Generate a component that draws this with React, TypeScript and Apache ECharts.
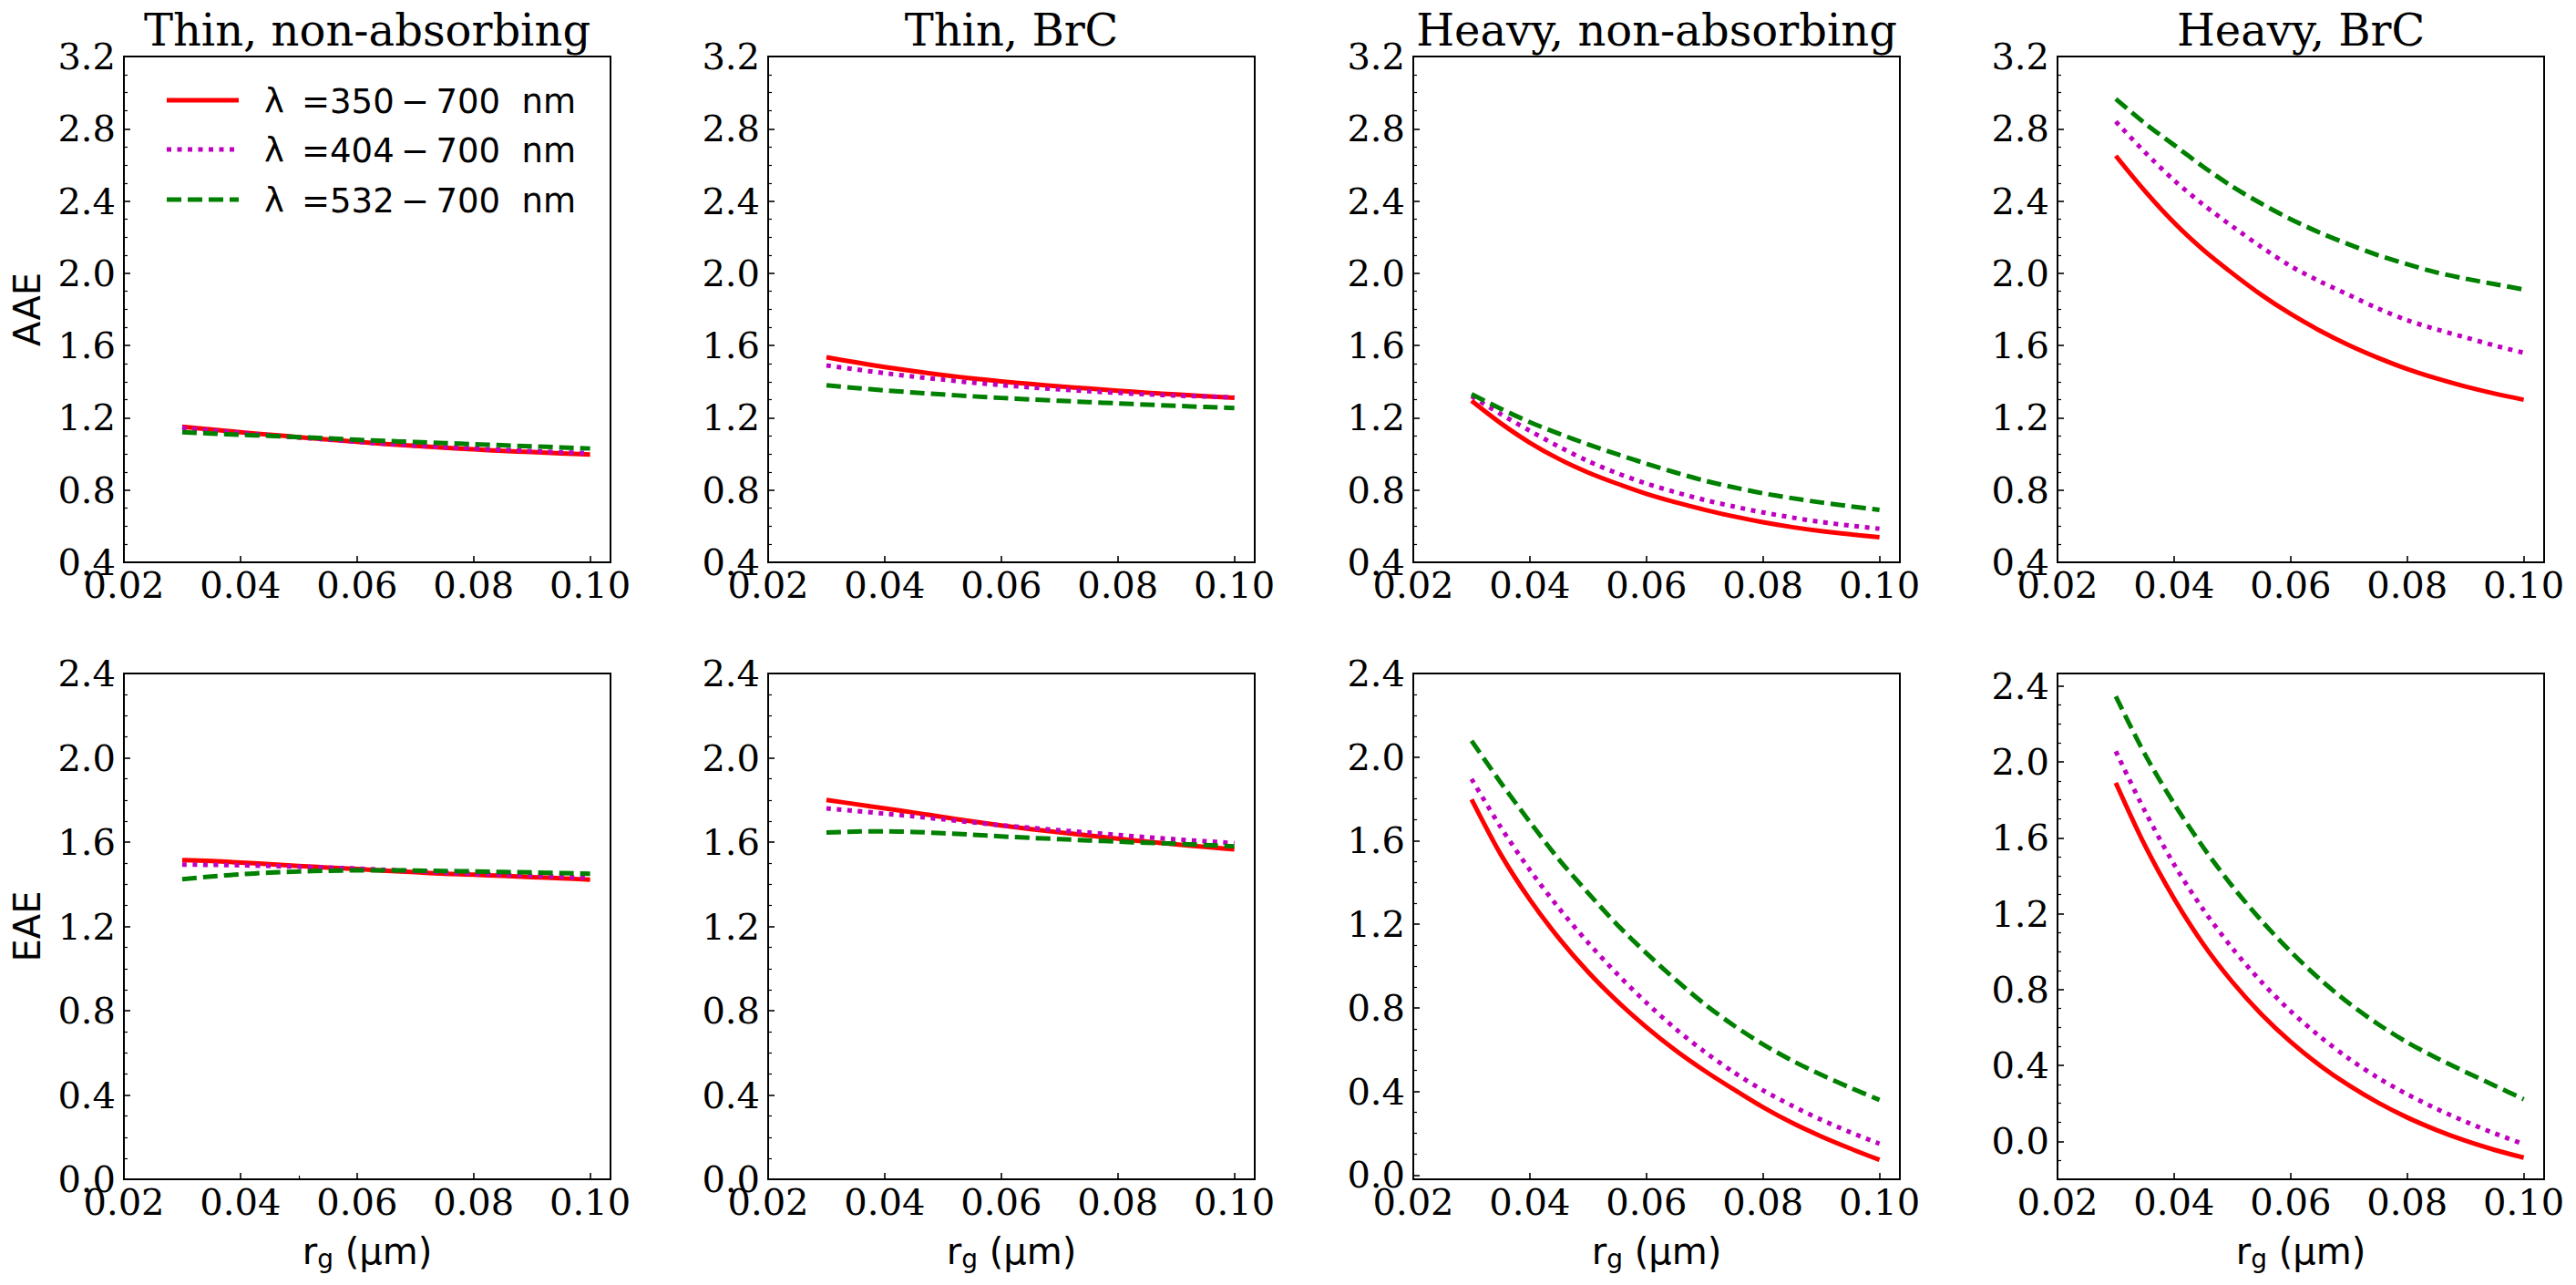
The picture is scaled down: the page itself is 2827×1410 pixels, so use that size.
import React, { useEffect, useRef } from "react";
import * as echarts from "echarts";

// ---------------- data ----------------
const X_VALUES = [0.03, 0.035, 0.04, 0.045, 0.05, 0.055, 0.06, 0.065, 0.07, 0.075, 0.08, 0.085, 0.09, 0.095, 0.1];

const PANEL_TITLES = ["Thin, non-absorbing", "Thin, BrC", "Heavy, non-absorbing", "Heavy, BrC"];
const ROW_LABELS = ["AAE", "EAE"];
const SERIES_LABELS = [
  "λ\u2009 =350\u2009−\u2009700  nm",
  "λ\u2009 =404\u2009−\u2009700  nm",
  "λ\u2009 =532\u2009−\u2009700  nm",
];

const X_TICKS = [0.02, 0.04, 0.06, 0.08, 0.1];
const X_RANGE = [0.02, 0.1035];
const AAE_TICKS = [0.4, 0.8, 1.2, 1.6, 2.0, 2.4, 2.8, 3.2];
const EAE_TICKS = [0.0, 0.4, 0.8, 1.2, 1.6, 2.0, 2.4];
const AAE_Y_MIN = [0.4, 0.4, 0.4, 0.4];
const AAE_Y_MAX = [3.2, 3.2, 3.2, 3.2];
const EAE_Y_MIN = [0.0, 0.0, -0.02, -0.2];
const EAE_Y_MAX = [2.4, 2.4, 2.4, 2.466];

// AAE
const AAE_THIN_NONABS_350 = [1.15, 1.135, 1.12, 1.106, 1.093, 1.08, 1.067, 1.055, 1.044, 1.034, 1.025, 1.017, 1.01, 1.003, 0.997];
const AAE_THIN_NONABS_404 = [1.145, 1.13, 1.116, 1.103, 1.091, 1.079, 1.067, 1.056, 1.046, 1.037, 1.029, 1.022, 1.015, 1.009, 1.004];
const AAE_THIN_NONABS_532 = [1.12, 1.113, 1.106, 1.1, 1.093, 1.086, 1.078, 1.072, 1.066, 1.06, 1.054, 1.048, 1.042, 1.036, 1.03];

const AAE_THIN_BRC_350 = [1.535, 1.507, 1.481, 1.458, 1.437, 1.418, 1.402, 1.387, 1.374, 1.362, 1.35, 1.339, 1.329, 1.32, 1.311];
const AAE_THIN_BRC_404 = [1.49, 1.468, 1.447, 1.428, 1.411, 1.395, 1.381, 1.368, 1.357, 1.347, 1.338, 1.33, 1.323, 1.318, 1.313];
const AAE_THIN_BRC_532 = [1.38, 1.365, 1.352, 1.34, 1.329, 1.319, 1.31, 1.302, 1.294, 1.287, 1.28, 1.273, 1.266, 1.26, 1.254];

const AAE_HEAVY_NONABS_350 = [1.294, 1.17, 1.062, 0.972, 0.897, 0.835, 0.779, 0.732, 0.691, 0.654, 0.622, 0.595, 0.573, 0.555, 0.539];
const AAE_HEAVY_NONABS_404 = [1.32, 1.22, 1.128, 1.04, 0.96, 0.893, 0.836, 0.788, 0.745, 0.709, 0.676, 0.648, 0.623, 0.603, 0.586];
const AAE_HEAVY_NONABS_532 = [1.331, 1.25, 1.176, 1.112, 1.053, 0.998, 0.946, 0.897, 0.852, 0.815, 0.782, 0.755, 0.731, 0.71, 0.69];

const AAE_HEAVY_BRC_350 = [2.65, 2.455, 2.28, 2.13, 2.0, 1.88, 1.775, 1.683, 1.602, 1.532, 1.47, 1.418, 1.373, 1.334, 1.3];
const AAE_HEAVY_BRC_404 = [2.84, 2.67, 2.515, 2.38, 2.26, 2.145, 2.04, 1.955, 1.88, 1.805, 1.74, 1.69, 1.645, 1.6, 1.56];
const AAE_HEAVY_BRC_532 = [2.965, 2.83, 2.71, 2.59, 2.48, 2.385, 2.3, 2.225, 2.16, 2.1, 2.05, 2.005, 1.97, 1.94, 1.91];

// EAE
const EAE_THIN_NONABS_350 = [1.515, 1.51, 1.503, 1.495, 1.487, 1.479, 1.472, 1.464, 1.457, 1.45, 1.445, 1.44, 1.434, 1.428, 1.422];
const EAE_THIN_NONABS_404 = [1.493, 1.492, 1.49, 1.487, 1.483, 1.479, 1.474, 1.468, 1.462, 1.456, 1.45, 1.445, 1.44, 1.435, 1.43];
const EAE_THIN_NONABS_532 = [1.424, 1.437, 1.447, 1.455, 1.46, 1.464, 1.466, 1.466, 1.465, 1.463, 1.461, 1.458, 1.456, 1.453, 1.45];

const EAE_THIN_BRC_350 = [1.8, 1.78, 1.76, 1.74, 1.719, 1.698, 1.679, 1.662, 1.646, 1.631, 1.616, 1.602, 1.589, 1.577, 1.565];
const EAE_THIN_BRC_404 = [1.76, 1.748, 1.735, 1.722, 1.708, 1.694, 1.68, 1.668, 1.656, 1.645, 1.634, 1.623, 1.613, 1.604, 1.595];
const EAE_THIN_BRC_532 = [1.645, 1.65, 1.651, 1.648, 1.642, 1.635, 1.627, 1.62, 1.614, 1.608, 1.602, 1.597, 1.592, 1.586, 1.58];

const EAE_HEAVY_NONABS_350 = [1.798, 1.535, 1.318, 1.133, 0.972, 0.832, 0.708, 0.597, 0.499, 0.41, 0.325, 0.25, 0.185, 0.127, 0.073];
const EAE_HEAVY_NONABS_404 = [1.895, 1.665, 1.46, 1.277, 1.112, 0.962, 0.825, 0.7, 0.59, 0.492, 0.406, 0.332, 0.265, 0.205, 0.15];
const EAE_HEAVY_NONABS_532 = [2.078, 1.878, 1.69, 1.51, 1.35, 1.198, 1.062, 0.935, 0.818, 0.716, 0.626, 0.548, 0.48, 0.418, 0.36];

const EAE_HEAVY_BRC_350 = [1.89, 1.56, 1.28, 1.04, 0.84, 0.67, 0.525, 0.401, 0.295, 0.204, 0.126, 0.06, 0.003, -0.045, -0.086];
const EAE_HEAVY_BRC_404 = [2.056, 1.74, 1.46, 1.222, 1.018, 0.84, 0.686, 0.553, 0.436, 0.335, 0.248, 0.172, 0.104, 0.042, -0.015];
const EAE_HEAVY_BRC_532 = [2.345, 2.04, 1.78, 1.55, 1.345, 1.163, 1.0, 0.855, 0.728, 0.618, 0.522, 0.44, 0.366, 0.294, 0.222];

const PANEL_DATA = [
  [AAE_THIN_NONABS_350, AAE_THIN_NONABS_404, AAE_THIN_NONABS_532],
  [AAE_THIN_BRC_350, AAE_THIN_BRC_404, AAE_THIN_BRC_532],
  [AAE_HEAVY_NONABS_350, AAE_HEAVY_NONABS_404, AAE_HEAVY_NONABS_532],
  [AAE_HEAVY_BRC_350, AAE_HEAVY_BRC_404, AAE_HEAVY_BRC_532],
  [EAE_THIN_NONABS_350, EAE_THIN_NONABS_404, EAE_THIN_NONABS_532],
  [EAE_THIN_BRC_350, EAE_THIN_BRC_404, EAE_THIN_BRC_532],
  [EAE_HEAVY_NONABS_350, EAE_HEAVY_NONABS_404, EAE_HEAVY_NONABS_532],
  [EAE_HEAVY_BRC_350, EAE_HEAVY_BRC_404, EAE_HEAVY_BRC_532],
];

// ---------------- layout & style ----------------
const W = 2827;
const H = 1410;
const COL_LEFT = [136, 843, 1551, 2258];
const PANEL_W = 534;
const ROW_TOP = [62, 739];
const PANEL_H = 555;

const COLORS = ["#ff0000", "#bf00bf", "#008000"];
const DASHES: (number[] | null)[] = [null, [5, 6.5], [16, 7]];
const LINE_W = 5;

const SERIF = "DejaVu Serif";
const SANS = "DejaVu Sans";

function minorValues(min: number, max: number, majors: number[], step: number): number[] {
  const out: number[] = [];
  const start = Math.ceil(min / step - 1e-9);
  const end = Math.floor(max / step + 1e-9);
  for (let k = start; k <= end; k++) {
    const v = Math.round(k * step * 1000) / 1000;
    if (!majors.some((m) => Math.abs(m - v) < 1e-6)) out.push(v);
  }
  return out;
}

function buildOption() {
  const grid: any[] = [];
  const xAxis: any[] = [];
  const yAxis: any[] = [];
  const series: any[] = [];
  const graphic: any[] = [];

  const tickStyle = { color: "#000", width: 1.6 };

  for (let r = 0; r < 2; r++) {
    for (let c = 0; c < 4; c++) {
      const i = r * 4 + c;
      grid.push({
        left: COL_LEFT[c],
        top: ROW_TOP[r],
        width: PANEL_W,
        height: PANEL_H,
        show: true,
        borderColor: "#000",
        borderWidth: 2,
        backgroundColor: "transparent",
        containLabel: false,
        outerBoundsMode: "none",
      });
      xAxis.push({
        type: "value",
        gridIndex: i,
        position: "bottom",
        min: X_RANGE[0],
        max: X_RANGE[1],
        axisLine: { show: false, onZero: false },
        splitLine: { show: false },
        axisTick: { show: true, inside: true, length: 7, lineStyle: tickStyle, customValues: X_TICKS },
        axisLabel: {
          show: true,
          customValues: X_TICKS,
          formatter: (v: number) => v.toFixed(2),
          margin: 5,
          color: "#000",
          fontFamily: SERIF,
          fontSize: 40,
        },
      });
      const yMin = r === 0 ? AAE_Y_MIN[c] : EAE_Y_MIN[c];
      const yMax = r === 0 ? AAE_Y_MAX[c] : EAE_Y_MAX[c];
      const ticks = r === 0 ? AAE_TICKS : EAE_TICKS;
      yAxis.push({
        type: "value",
        gridIndex: i,
        position: "left",
        min: yMin,
        max: yMax,
        axisLine: { show: false, onZero: false },
        splitLine: { show: false },
        axisTick: { show: true, inside: true, length: 7, lineStyle: tickStyle, customValues: ticks },
        axisLabel: {
          show: true,
          customValues: ticks,
          formatter: (v: number) => v.toFixed(1),
          margin: 9,
          color: "#000",
          fontFamily: SERIF,
          fontSize: 40,
        },
      });
      const data = PANEL_DATA[i];
      for (let s = 0; s < 3; s++) {
        series.push({
          type: "line",
          name: SERIES_LABELS[s],
          xAxisIndex: i,
          yAxisIndex: i,
          data: X_VALUES.map((x, k) => [x, data[s][k]]),
          showSymbol: false,
          symbol: "none",
          smooth: 0.3,
          silent: true,
          z: 3 + s,
          lineStyle: {
            color: COLORS[s],
            width: LINE_W,
            type: DASHES[s] ? DASHES[s] : "solid",
            cap: "butt",
            join: "round",
          },
        });
      }
    }
  }

  // minor y ticks
  for (let r = 0; r < 2; r++) {
    for (let c = 0; c < 4; c++) {
      const i = r * 4 + c;
      const yMin = r === 0 ? AAE_Y_MIN[c] : EAE_Y_MIN[c];
      const yMax = r === 0 ? AAE_Y_MAX[c] : EAE_Y_MAX[c];
      const ticks = r === 0 ? AAE_TICKS : EAE_TICKS;
      yAxis.push({
        type: "value",
        gridIndex: i,
        position: "left",
        offset: 0,
        min: yMin,
        max: yMax,
        axisLine: { show: false, onZero: false },
        splitLine: { show: false },
        axisLabel: { show: false },
        axisTick: {
          show: true,
          inside: true,
          length: 4,
          lineStyle: { color: "#000", width: 1.2 },
          customValues: minorValues(yMin, yMax, ticks, 0.1),
        },
      });
    }
  }
  // single minor x tick in lower-left panel
  xAxis.push({
    type: "value",
    gridIndex: 4,
    position: "bottom",
    offset: 0,
    min: X_RANGE[0],
    max: X_RANGE[1],
    axisLine: { show: false, onZero: false },
    splitLine: { show: false },
    axisLabel: { show: false },
    axisTick: { show: true, inside: true, length: 4, lineStyle: { color: "#000", width: 1.2 }, customValues: [0.05] },
  });

  // titles
  for (let c = 0; c < 4; c++) {
    graphic.push({
      type: "text",
      x: COL_LEFT[c] + PANEL_W / 2,
      y: 33,
      silent: true,
      style: {
        text: PANEL_TITLES[c],
        fill: "#000",
        fontFamily: SERIF,
        fontSize: 48,
        align: "center",
        verticalAlign: "middle",
      },
    });
  }
  // row labels
  for (let r = 0; r < 2; r++) {
    graphic.push({
      type: "text",
      x: 30,
      y: ROW_TOP[r] + PANEL_H / 2,
      rotation: Math.PI / 2,
      silent: true,
      style: {
        text: ROW_LABELS[r],
        fill: "#000",
        fontFamily: SANS,
        fontSize: 40,
        align: "center",
        verticalAlign: "middle",
      },
    });
  }
  // x labels
  for (let c = 0; c < 4; c++) {
    graphic.push({
      type: "text",
      x: COL_LEFT[c] + PANEL_W / 2,
      y: 1373,
      silent: true,
      style: {
        text: "r{sub|g} (μm)",
        fill: "#000",
        fontFamily: SANS,
        fontSize: 40,
        lineHeight: 40,
        align: "center",
        verticalAlign: "middle",
        rich: {
          sub: { fontFamily: SANS, fontSize: 28, lineHeight: 28, padding: [16, 0, 0, 0], fill: "#000" },
        },
      },
    });
  }
  // legend (top-left panel)
  const legendY = [110, 164, 219];
  for (let s = 0; s < 3; s++) {
    graphic.push({
      type: "line",
      silent: true,
      shape: { x1: 183, y1: legendY[s], x2: 262, y2: legendY[s] },
      style: {
        stroke: COLORS[s],
        lineWidth: LINE_W,
        lineDash: DASHES[s] ? DASHES[s] : null,
        lineCap: "butt",
      },
      z: 10,
    });
    graphic.push({
      type: "text",
      silent: true,
      x: 290,
      y: legendY[s] + 1,
      style: {
        text: SERIES_LABELS[s],
        fill: "#000",
        fontFamily: SANS,
        fontSize: 37,
        align: "left",
        verticalAlign: "middle",
      },
      z: 10,
    });
  }

  return {
    animation: false,
    backgroundColor: "#ffffff",
    grid,
    xAxis,
    yAxis,
    series,
    graphic,
  };
}

export default function App() {
  const ref = useRef<HTMLDivElement | null>(null);
  useEffect(() => {
    document.body.style.margin = "0";
    if (!ref.current) return;
    const chart = echarts.init(ref.current, null, { renderer: "svg", width: W, height: H });
    chart.setOption(buildOption() as any);
    return () => {
      chart.dispose();
    };
  }, []);
  return <div ref={ref} style={{ width: W, height: H }} />;
}
